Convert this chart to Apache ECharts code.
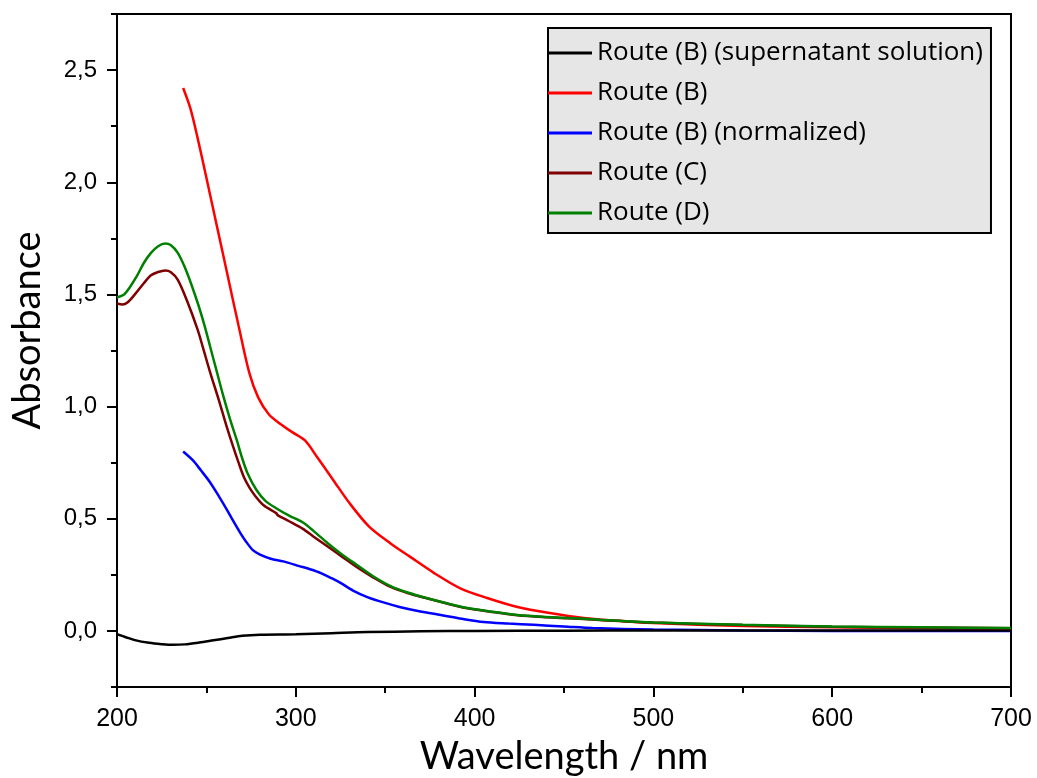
<!DOCTYPE html>
<html>
<head>
<meta charset="utf-8">
<script src="https://cdn.jsdelivr.net/npm/echarts@6/dist/echarts.min.js"></script>
<style>html,body{margin:0;padding:0;background:#fff}#c{width:1037px;height:778px}</style>
</head>
<body>
<div id="c"></div>
<script>
const seriesNames = ['Route (B) (supernatant solution)', 'Route (B)', 'Route (B) (normalized)', 'Route (C)', 'Route (D)'];
const seriesColors = ['#000000', '#ff0000', '#0000ff', '#7f0000', '#008000'];

const blackX = [200, 205, 210, 218, 225, 231, 238, 246, 254, 262, 270, 280, 300, 320, 340, 370, 400, 450, 500, 550, 600, 650, 700];
const blackY = [-0.015, -0.028, -0.041, -0.053, -0.059, -0.062, -0.060, -0.052, -0.042, -0.032, -0.022, -0.017, -0.015, -0.010, -0.005, -0.002, 0.000, 0.001, 0.002, 0.002, 0.002, 0.002, 0.002];

const redX = [237, 241, 245, 250, 256, 262, 268, 274, 279, 285, 291, 298, 305, 312, 321, 330, 341, 353, 364, 377, 392, 407, 424, 442, 461, 480, 500, 550, 600, 650, 700];
const redY = [2.42, 2.33, 2.20, 2.02, 1.80, 1.58, 1.36, 1.15, 1.04, 0.965, 0.925, 0.886, 0.85, 0.774, 0.672, 0.57, 0.465, 0.39, 0.33, 0.26, 0.19, 0.147, 0.107, 0.08, 0.058, 0.045, 0.035, 0.022, 0.016, 0.012, 0.009];

const blueX = [237, 242.5, 247, 252, 257, 261.5, 265, 269, 272, 276, 280, 286, 293, 302, 308, 314, 320, 325, 332, 340, 349, 358, 369, 381, 393, 405, 419, 433, 450, 466, 500, 550, 600, 650, 700];
const blueY = [0.80, 0.76, 0.715, 0.663, 0.60, 0.54, 0.49, 0.436, 0.40, 0.36, 0.34, 0.322, 0.31, 0.289, 0.275, 0.258, 0.235, 0.214, 0.18, 0.151, 0.127, 0.107, 0.088, 0.071, 0.054, 0.04, 0.033, 0.027, 0.02, 0.013, 0.006, 0.002, 0.0, 0.0, 0.0];

const brownX = [200, 203, 206, 210, 215, 219, 223, 227, 230, 234, 239, 245, 248, 252, 257, 261, 265, 268, 271, 274, 277, 282, 289, 290, 296, 304, 310, 318, 326, 334, 343, 353, 363, 373, 385, 396, 410, 424, 438, 452, 470, 500, 550, 600, 650, 700];
const brownY = [1.46, 1.455, 1.465, 1.50, 1.55, 1.585, 1.60, 1.607, 1.60, 1.565, 1.475, 1.345, 1.265, 1.155, 1.028, 0.92, 0.82, 0.75, 0.685, 0.64, 0.605, 0.56, 0.525, 0.515, 0.49, 0.455, 0.42, 0.375, 0.33, 0.285, 0.24, 0.196, 0.168, 0.146, 0.121, 0.101, 0.084, 0.07, 0.062, 0.057, 0.049, 0.037, 0.026, 0.019, 0.015, 0.012];

const greenX = [200, 204, 207, 211, 215, 219, 223, 227, 230, 234, 239, 245, 249, 252, 256, 259, 263, 267, 270, 273, 278, 283, 289, 296, 304, 310, 318, 326, 334, 343, 353, 363, 373, 385, 396, 410, 424, 438, 452, 470, 500, 550, 600, 650, 700];
const greenY = [1.486, 1.50, 1.53, 1.58, 1.64, 1.685, 1.715, 1.727, 1.72, 1.685, 1.60, 1.465, 1.36, 1.27, 1.15, 1.06, 0.95, 0.85, 0.77, 0.703, 0.628, 0.58, 0.547, 0.515, 0.483, 0.445, 0.39, 0.34, 0.295, 0.245, 0.2, 0.17, 0.147, 0.122, 0.102, 0.085, 0.071, 0.063, 0.058, 0.05, 0.038, 0.027, 0.02, 0.016, 0.013];

const yMajorTicks = [0, 0.5, 1.0, 1.5, 2.0, 2.5];
const yMinorTicks = [-0.25, 0.25, 0.75, 1.25, 1.75, 2.25, 2.75];

const xs = [blackX, redX, blueX, brownX, greenX];
const ys = [blackY, redY, blueY, brownY, greenY];
const zip = (a, b) => a.map((v, i) => [v, b[i]]);

const chart = echarts.init(document.getElementById('c'), null, {renderer: 'canvas'});
chart.setOption({
  animation: false,
  backgroundColor: '#fff',
  grid: {left: 117, right: 26, top: 14, bottom: 91, show: true, borderColor: '#000', borderWidth: 2,
    backgroundColor: 'transparent', outerBoundsMode: 'none', containLabel: false},
  legend: {
    orient: 'vertical', left: 548, top: 28,
    backgroundColor: '#e6e6e6', borderColor: '#000', borderWidth: 2,
    padding: [5, 8, 0, 0], itemGap: 0, itemWidth: 44, itemHeight: 3, icon: 'rect',
    textStyle: {fontFamily: 'Open Sans', fontSize: 26, color: '#000', lineHeight: 40},
    data: seriesNames
  },
  xAxis: {
    type: 'value', min: 200, max: 700, interval: 100,
    name: 'Wavelength / nm', nameLocation: 'middle', nameGap: 51,
    nameTextStyle: {fontFamily: 'Lato', fontSize: 38, color: '#000'},
    axisLine: {show: true, onZero: false, lineStyle: {color: '#000', width: 2}},
    axisTick: {show: true, length: 10, lineStyle: {color: '#000', width: 2}},
    minorTick: {show: true, splitNumber: 2, length: 6, lineStyle: {color: '#000', width: 2}},
    axisLabel: {fontFamily: 'Liberation Sans', fontSize: 25, color: '#000', margin: 20},
    splitLine: {show: false}
  },
  yAxis: [{
    type: 'value', min: -0.25, max: 2.75,
    name: 'Absorbance', nameLocation: 'middle', nameGap: 70,
    nameTextStyle: {fontFamily: 'Lato', fontSize: 38, color: '#000', padding: [0, 0, 0, 40]},
    axisLine: {show: true, onZero: false, lineStyle: {color: '#000', width: 2}},
    axisTick: {show: true, length: 10, customValues: yMajorTicks, lineStyle: {color: '#000', width: 2}},
    axisLabel: {fontFamily: 'Liberation Sans', fontSize: 24, color: '#000', margin: 20, customValues: yMajorTicks,
      formatter: v => v.toFixed(1).replace('.', ',')},
    splitLine: {show: false}
  }, {
    type: 'value', min: -0.25, max: 2.75, position: 'left',
    axisLine: {show: false},
    axisTick: {show: true, length: 6, customValues: yMinorTicks, lineStyle: {color: '#000', width: 2}},
    axisLabel: {show: false},
    splitLine: {show: false}
  }],
  series: seriesNames.map((n, i) => ({
    name: n, type: 'line', yAxisIndex: 0, showSymbol: false, smooth: 0.3,
    data: zip(xs[i], ys[i]),
    lineStyle: {color: seriesColors[i], width: 2.5},
    itemStyle: {color: seriesColors[i]},
    z: i === 0 ? 5 : 2 + i
  }))
});
</script>
</body>
</html>
